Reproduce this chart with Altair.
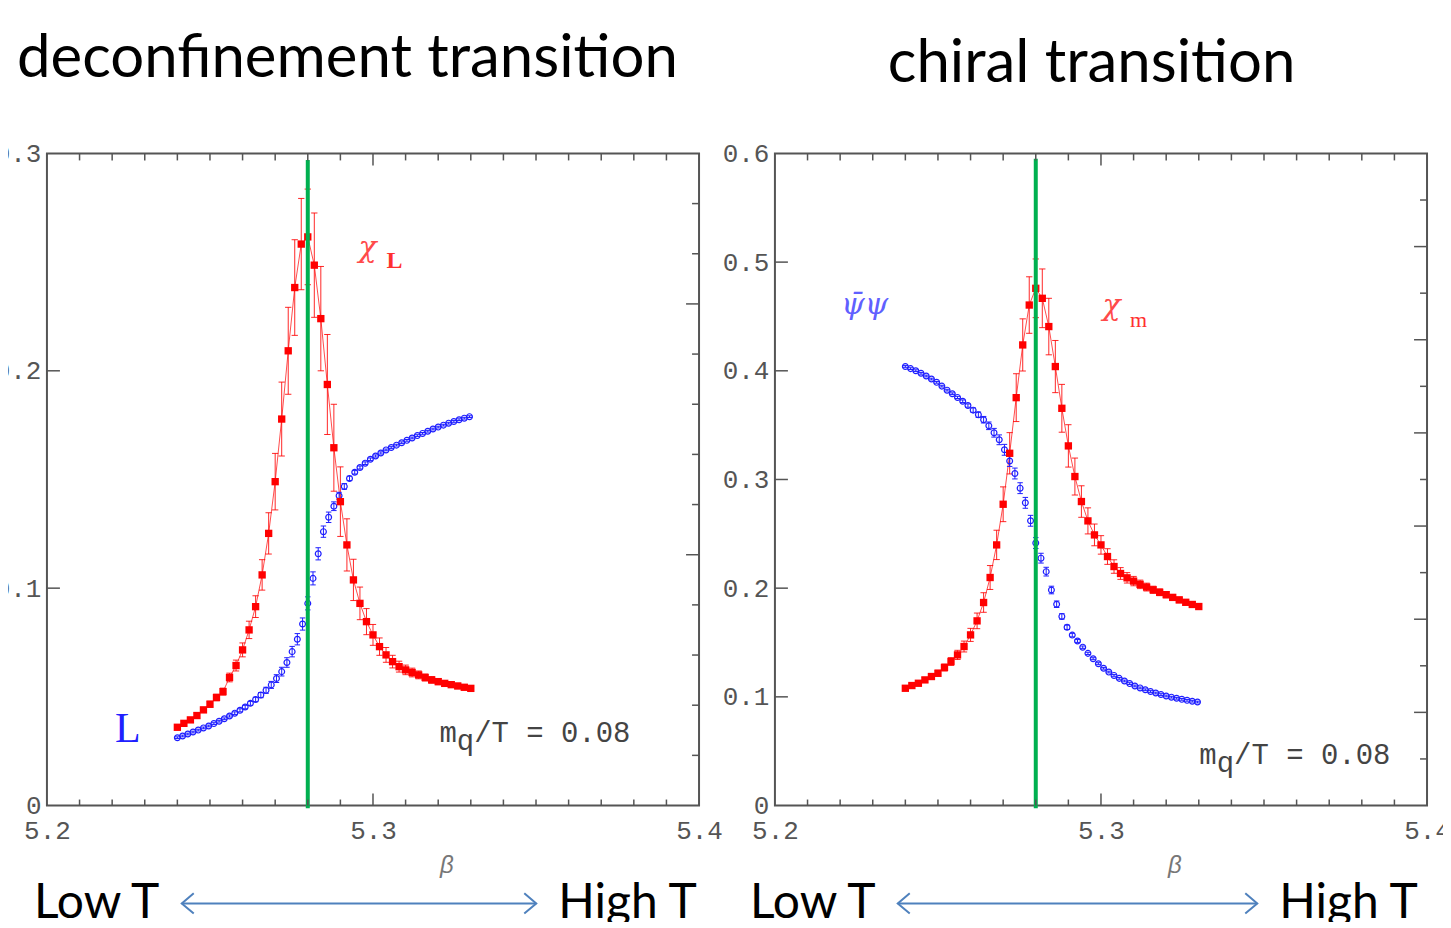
import altair as alt
import pandas as pd

# ---------------- data ----------------
beta_red = [5.240, 5.242, 5.244, 5.246, 5.248, 5.250, 5.252, 5.254, 5.256, 5.258,
            5.260, 5.262, 5.264, 5.266, 5.268, 5.270, 5.272, 5.274, 5.276, 5.278,
            5.280, 5.282, 5.284, 5.286, 5.288, 5.290, 5.292, 5.294, 5.296, 5.298,
            5.300, 5.302, 5.304, 5.306, 5.308, 5.310, 5.312, 5.314, 5.316, 5.318,
            5.320, 5.322, 5.324, 5.326, 5.328, 5.330]

beta_blue = [5.2400, 5.2416, 5.2432, 5.2448, 5.2464, 5.2480, 5.2496, 5.2512, 5.2528, 5.2544,
             5.2560, 5.2576, 5.2592, 5.2608, 5.2624, 5.2640, 5.2656, 5.2672, 5.2688, 5.2704,
             5.2720, 5.2736, 5.2752, 5.2768, 5.2784, 5.2800, 5.2816, 5.2832, 5.2848, 5.2864,
             5.2880, 5.2896, 5.2912, 5.2928, 5.2944, 5.2960, 5.2976, 5.2992, 5.3008, 5.3024,
             5.3040, 5.3056, 5.3072, 5.3088, 5.3104, 5.3120, 5.3136, 5.3152, 5.3168, 5.3184,
             5.3200, 5.3216, 5.3232, 5.3248, 5.3264, 5.3280, 5.3296]

# deconfinement: Polyakov-loop susceptibility chi_L (red) and Polyakov loop L (blue)
chiL = [0.0360, 0.0378, 0.0394, 0.0414, 0.0440, 0.0466, 0.0497, 0.0524, 0.0589, 0.0644,
        0.0716, 0.0808, 0.0915, 0.1061, 0.1252, 0.1490, 0.1778, 0.2092, 0.2383, 0.2583,
        0.2616, 0.2486, 0.2240, 0.1937, 0.1646, 0.1398, 0.1199, 0.1038, 0.0930, 0.0846,
        0.0785, 0.0731, 0.0693, 0.0662, 0.0639, 0.0624, 0.0612, 0.0601, 0.0589, 0.0578,
        0.0570, 0.0562, 0.0556, 0.0550, 0.0544, 0.0539]
chiL_err = [0.0010, 0.0010, 0.0010, 0.0012, 0.0012, 0.0014, 0.0015, 0.0016, 0.0020, 0.0025,
            0.0032, 0.0040, 0.0050, 0.0070, 0.0095, 0.0130, 0.0170, 0.0200, 0.0220, 0.0210,
            0.0220, 0.0240, 0.0240, 0.0230, 0.0200, 0.0160, 0.0120, 0.0095, 0.0075, 0.0060,
            0.0048, 0.0040, 0.0034, 0.0029, 0.0025, 0.0022, 0.0020, 0.0018, 0.0016, 0.0015,
            0.0014, 0.0013, 0.0012, 0.0012, 0.0011, 0.0011]

polyL = [0.0312, 0.0320, 0.0329, 0.0338, 0.0347, 0.0357, 0.0366, 0.0377, 0.0388, 0.0399,
         0.0412, 0.0425, 0.0438, 0.0453, 0.0470, 0.0488, 0.0508, 0.0530, 0.0555, 0.0584,
         0.0616, 0.0658, 0.0708, 0.0765, 0.0835, 0.0930, 0.1045, 0.1158, 0.1260, 0.1326,
         0.1377, 0.1425, 0.1468, 0.1505, 0.1533, 0.1555, 0.1575, 0.1593, 0.1608, 0.1622,
         0.1636, 0.1647, 0.1658, 0.1669, 0.1680, 0.1691, 0.1702, 0.1712, 0.1722, 0.1732,
         0.1741, 0.1750, 0.1759, 0.1767, 0.1775, 0.1782, 0.1789]
polyL_err = [0.0004, 0.0004, 0.0004, 0.0004, 0.0004, 0.0004, 0.0004, 0.0004, 0.0004, 0.0004,
             0.0005, 0.0006, 0.0007, 0.0008, 0.0009, 0.0010, 0.0012, 0.0014, 0.0016, 0.0018,
             0.0020, 0.0022, 0.0024, 0.0026, 0.0028, 0.0030, 0.0030, 0.0028, 0.0026, 0.0024,
             0.0020, 0.0016, 0.0013, 0.0010, 0.0008, 0.0007, 0.0006, 0.0006, 0.0005, 0.0005,
             0.0004, 0.0004, 0.0004, 0.0004, 0.0004, 0.0004, 0.0004, 0.0004, 0.0004, 0.0004,
             0.0004, 0.0004, 0.0004, 0.0004, 0.0004, 0.0004, 0.0004]

# chiral: chiral susceptibility chi_m (red) and chiral condensate (blue)
chim = [0.1079, 0.1104, 0.1125, 0.1156, 0.1187, 0.1217, 0.1270, 0.1325, 0.1386, 0.1463,
        0.1570, 0.1699, 0.1868, 0.2098, 0.2398, 0.2772, 0.3241, 0.3753, 0.4238, 0.4605,
        0.4759, 0.4667, 0.4407, 0.4039, 0.3655, 0.3309, 0.3027, 0.2797, 0.2619, 0.2490,
        0.2398, 0.2291, 0.2199, 0.2135, 0.2095, 0.2065, 0.2035, 0.2010, 0.1985, 0.1962,
        0.1940, 0.1915, 0.1892, 0.1870, 0.1850, 0.1831]
chim_err = [0.0020, 0.0020, 0.0020, 0.0022, 0.0025, 0.0028, 0.0032, 0.0036, 0.0042, 0.0050,
            0.0060, 0.0072, 0.0090, 0.0110, 0.0135, 0.0160, 0.0190, 0.0220, 0.0240, 0.0260,
            0.0270, 0.0270, 0.0260, 0.0240, 0.0220, 0.0195, 0.0170, 0.0145, 0.0120, 0.0100,
            0.0085, 0.0072, 0.0062, 0.0054, 0.0048, 0.0043, 0.0039, 0.0036, 0.0033, 0.0031,
            0.0029, 0.0027, 0.0026, 0.0025, 0.0024, 0.0023]

pbp = [0.4040, 0.4020, 0.4001, 0.3977, 0.3952, 0.3924, 0.3894, 0.3859, 0.3822, 0.3789,
       0.3755, 0.3720, 0.3680, 0.3638, 0.3596, 0.3550, 0.3494, 0.3430, 0.3365, 0.3273,
       0.3170, 0.3055, 0.2920, 0.2785, 0.2620, 0.2415, 0.2276, 0.2152, 0.1983, 0.1852,
       0.1740, 0.1640, 0.1568, 0.1514, 0.1457, 0.1400, 0.1351, 0.1305, 0.1263, 0.1228,
       0.1197, 0.1170, 0.1146, 0.1122, 0.1100, 0.1082, 0.1065, 0.1049, 0.1035, 0.1021,
       0.1008, 0.0997, 0.0987, 0.0977, 0.0968, 0.0960, 0.0952]
pbp_err = [0.0008, 0.0008, 0.0008, 0.0008, 0.0008, 0.0008, 0.0008, 0.0008, 0.0008, 0.0008,
           0.0010, 0.0012, 0.0015, 0.0020, 0.0025, 0.0030, 0.0035, 0.0040, 0.0045, 0.0050,
           0.0050, 0.0050, 0.0050, 0.0050, 0.0050, 0.0050, 0.0045, 0.0040, 0.0035, 0.0030,
           0.0025, 0.0020, 0.0016, 0.0013, 0.0011, 0.0010, 0.0009, 0.0009, 0.0008, 0.0008,
           0.0008, 0.0008, 0.0008, 0.0008, 0.0008, 0.0008, 0.0008, 0.0008, 0.0008, 0.0008,
           0.0008, 0.0008, 0.0008, 0.0008, 0.0008, 0.0008, 0.0008]

beta_c = [5.28]

# axis tick values
x_labels = [5.2, 5.3, 5.4]
x_minor = [5.21, 5.22, 5.23, 5.24, 5.25, 5.26, 5.27, 5.28, 5.29,
           5.31, 5.32, 5.33, 5.34, 5.35, 5.36, 5.37, 5.38, 5.39]
x_major = [5.3]
yL_labels = [0, 0.1, 0.2, 0.3]
yL_ticks = [0.1, 0.2]
yR_labels = [0, 0.1, 0.2, 0.3, 0.4, 0.5, 0.6]
yR_ticks = [0.1, 0.2, 0.3, 0.4, 0.5]
# unlabeled secondary (right-hand) axes
rL_minor = [0.1, 0.2, 0.3, 0.4, 0.6, 0.7, 0.8, 0.9, 1.1, 1.2]
rL_major = [0.5, 1.0]
rR_minor = [0.1, 0.3, 0.5, 0.7, 0.9, 1.1, 1.3]
rR_major = [0.2, 0.4, 0.6, 0.8, 1.0, 1.2]

# ---------------- styling ----------------
RED = "#ff0000"
BLUE = "#1e1eff"
GREEN = "#00b050"
FRAME = "#555555"
LABEL = "#555555"
ARROW = "#4f81bd"
MONO = "Liberation Mono"
SANS = "Lato"
W = 653
H = 653

xs = alt.Scale(domain=[5.2, 5.4], nice=False, zero=False)


def x_axis():
    return alt.Axis(values=x_labels, format=".1f", ticks=False, tickSize=0, domain=False,
                    grid=False, labelFont=MONO, labelFontSize=26, labelColor=LABEL,
                    labelPadding=12, labelFlush=False, labelOverlap=False,
                    title="β", titleFont="Liberation Sans", titleFontStyle="italic",
                    titleFontWeight="normal", titleFontSize=24, titleColor="#777777",
                    titleX=400, titleY=60, titleAlign="center", titleBaseline="middle",
                    titleAngle=0)


def y_axis(vals):
    return alt.Axis(values=vals, format=".1~f", ticks=False, tickSize=0, domain=False,
                    grid=False, labelFont=MONO, labelFontSize=26, labelColor=LABEL,
                    labelPadding=6, labelFlush=False, labelOverlap=False,
                    labelBaseline="middle")


def text_layer(t, x, y, font, size, color, align="left", baseline="alphabetic",
               style="normal", weight="normal"):
    return alt.Chart(pd.DataFrame({"t": [t]})).mark_text(
        align=align, baseline=baseline, font=font, fontSize=size, color=color,
        fontStyle=style, fontWeight=weight
    ).encode(x=alt.value(x), y=alt.value(y), text="t:N")


def arrow_layers(x1, x2, y):
    d = pd.DataFrame({"a": [0]})
    line = alt.Chart(d).mark_rule(color=ARROW, strokeWidth=2).encode(
        x=alt.value(x1), x2=alt.value(x2), y=alt.value(y))
    head_l = alt.Chart(d).mark_point(shape="M1,-0.85L0,0L1,0.85", size=576, filled=False,
                                     color=ARROW, strokeWidth=2, opacity=1).encode(
        x=alt.value(x1), y=alt.value(y))
    head_r = alt.Chart(d).mark_point(shape="M-1,-0.85L0,0L-1,0.85", size=576, filled=False,
                                     color=ARROW, strokeWidth=2, opacity=1).encode(
        x=alt.value(x2), y=alt.value(y))
    return [line, head_l, head_r]


def build_panel(red_v, red_e, blue_v, blue_e, ydom, ylab, ytick, r_minor, r_major, r_dom,
                green_lo, green_top, texts, arrow):
    ys = alt.Scale(domain=ydom, nice=False, zero=False)

    def X(f):
        return alt.X(f, type="quantitative", scale=xs, axis=x_axis())

    def Y(f):
        return alt.Y(f, type="quantitative", scale=ys, axis=y_axis(ylab), title=None)

    red = pd.DataFrame({"beta": beta_red, "v": red_v,
                        "lo": [v - e for v, e in zip(red_v, red_e)],
                        "hi": [v + e for v, e in zip(red_v, red_e)]})
    blue = pd.DataFrame({"beta": beta_blue, "v": blue_v,
                         "lo": [v - e for v, e in zip(blue_v, blue_e)],
                         "hi": [v + e for v, e in zip(blue_v, blue_e)]})
    cap = "M-1,0L1,0"

    layers = [
        alt.Chart(red).mark_line(color=RED, strokeWidth=1, opacity=0.7).encode(
            x=X("beta"), y=Y("v")),
        alt.Chart(red).mark_rule(color=RED, strokeWidth=1, opacity=0.85).encode(
            x=X("beta"), y=Y("lo"), y2="hi:Q"),
        alt.Chart(red).mark_point(shape=cap, size=40, filled=False, color=RED,
                                  strokeWidth=1, opacity=0.85).encode(x=X("beta"), y=Y("hi")),
        alt.Chart(red).mark_point(shape=cap, size=40, filled=False, color=RED,
                                  strokeWidth=1, opacity=0.85).encode(x=X("beta"), y=Y("lo")),
        alt.Chart(blue).mark_rule(color=BLUE, strokeWidth=1).encode(
            x=X("beta"), y=Y("lo"), y2="hi:Q"),
        alt.Chart(blue).mark_point(shape=cap, size=30, filled=False, color=BLUE,
                                   strokeWidth=1, opacity=1).encode(x=X("beta"), y=Y("hi")),
        alt.Chart(blue).mark_point(shape=cap, size=30, filled=False, color=BLUE,
                                   strokeWidth=1, opacity=1).encode(x=X("beta"), y=Y("lo")),
        alt.Chart(blue).mark_point(shape="circle", size=34, filled=False, color=BLUE,
                                   strokeWidth=1.2, opacity=1).encode(x=X("beta"), y=Y("v")),
        alt.Chart(red).mark_square(size=54, color=RED, opacity=1).encode(
            x=X("beta"), y=Y("v")),
        alt.Chart(pd.DataFrame({"b": beta_c, "y1": [green_lo], "y2": [green_top]})).mark_rule(
            color=GREEN, strokeWidth=4).encode(x=X("b"), y=Y("y1"), y2="y2:Q"),
        # inward frame ticks
        alt.Chart(pd.DataFrame({"b": x_minor})).mark_rule(color=FRAME, strokeWidth=1.5).encode(
            x=X("b"), y=alt.value(H), y2=alt.value(H - 6)),
        alt.Chart(pd.DataFrame({"b": x_major})).mark_rule(color=FRAME, strokeWidth=1.5).encode(
            x=X("b"), y=alt.value(H), y2=alt.value(H - 12)),
        alt.Chart(pd.DataFrame({"b": x_minor})).mark_rule(color=FRAME, strokeWidth=1.5).encode(
            x=X("b"), y=alt.value(0), y2=alt.value(7)),
        alt.Chart(pd.DataFrame({"b": x_major})).mark_rule(color=FRAME, strokeWidth=1.5).encode(
            x=X("b"), y=alt.value(0), y2=alt.value(12)),
        alt.Chart(pd.DataFrame({"t": ytick})).mark_rule(color=FRAME, strokeWidth=1.5).encode(
            y=Y("t"), x=alt.value(0), x2=alt.value(13)),
    ]
    for t in texts:
        layers.append(text_layer(**t))
    layers += arrow_layers(*arrow)

    main = alt.layer(*layers)

    rs = alt.Scale(domain=r_dom, nice=False, zero=False)
    right_ticks = alt.layer(
        alt.Chart(pd.DataFrame({"r": r_minor})).mark_rule(color=FRAME, strokeWidth=1.5).encode(
            y=alt.Y("r:Q", scale=rs, axis=None), x=alt.value(W), x2=alt.value(W - 7)),
        alt.Chart(pd.DataFrame({"r": r_major})).mark_rule(color=FRAME, strokeWidth=1.5).encode(
            y=alt.Y("r:Q", scale=rs, axis=None), x=alt.value(W), x2=alt.value(W - 13)),
    )
    return alt.layer(main, right_ticks).resolve_scale(y="independent").properties(
        width=W, height=H)


left_texts = [
    dict(t="deconfinement transition", x=-30, y=-77, font=SANS, size=60, color="#000000"),
    dict(t="χ", x=321, y=95, font="DejaVu Serif", size=30, color="#ff4a4a",
         align="center", baseline="middle", style="italic"),
    dict(t="L", x=348, y=108, font="Liberation Serif", size=24, color="#ff3030",
         align="center", baseline="middle", weight="bold"),
    dict(t="L", x=81, y=576, font="Liberation Serif", size=42, color="#2020ff",
         align="center", baseline="middle"),
    dict(t="m", x=393, y=589, font=MONO, size=29, color="#444444"),
    dict(t="q", x=410.4, y=597, font=MONO, size=29, color="#444444"),
    dict(t="/T = 0.08", x=427.8, y=589, font=MONO, size=29, color="#444444"),
    dict(t="Low T", x=-13, y=766, font=SANS, size=48, color="#000000"),
    dict(t="High T", x=512, y=766, font=SANS, size=48, color="#000000"),
]

right_texts = [
    dict(t="chiral transition", x=113, y=-72, font=SANS, size=60, color="#000000"),
    dict(t="ψ\u0304ψ", x=90, y=152, font="DejaVu Serif", size=30, color="#6060ff",
         align="center", baseline="middle", style="italic"),
    dict(t="χ", x=337, y=153, font="DejaVu Serif", size=30, color="#ff4a4a",
         align="center", baseline="middle", style="italic"),
    dict(t="m", x=364, y=167, font="Liberation Serif", size=22, color="#ff3030",
         align="center", baseline="middle"),
    dict(t="m", x=425, y=611, font=MONO, size=29, color="#444444"),
    dict(t="q", x=442.4, y=619, font=MONO, size=29, color="#444444"),
    dict(t="/T = 0.08", x=459.8, y=611, font=MONO, size=29, color="#444444"),
    dict(t="Low T", x=-25, y=766, font=SANS, size=48, color="#000000"),
    dict(t="High T", x=505, y=766, font=SANS, size=48, color="#000000"),
]

left = build_panel(chiL, chiL_err, polyL, polyL_err, [0, 0.3], yL_labels, yL_ticks,
                   rL_minor, rL_major, [0, 1.3], -0.0012, 0.297, left_texts, (135, 490, 751))
right = build_panel(chim, chim_err, pbp, pbp_err, [0, 0.6], yR_labels, yR_ticks,
                    rR_minor, rR_major, [0, 1.4], -0.0025, 0.595, right_texts, (123, 483, 751))

chart = alt.hconcat(
    left, right, spacing=76, bounds="flush", background="white",
    padding={"left": -15, "top": 19, "right": -9, "bottom": -8},
).configure_view(stroke=FRAME, strokeWidth=2)

chart.save("out.html", embed_options={"renderer": "svg", "actions": False})
